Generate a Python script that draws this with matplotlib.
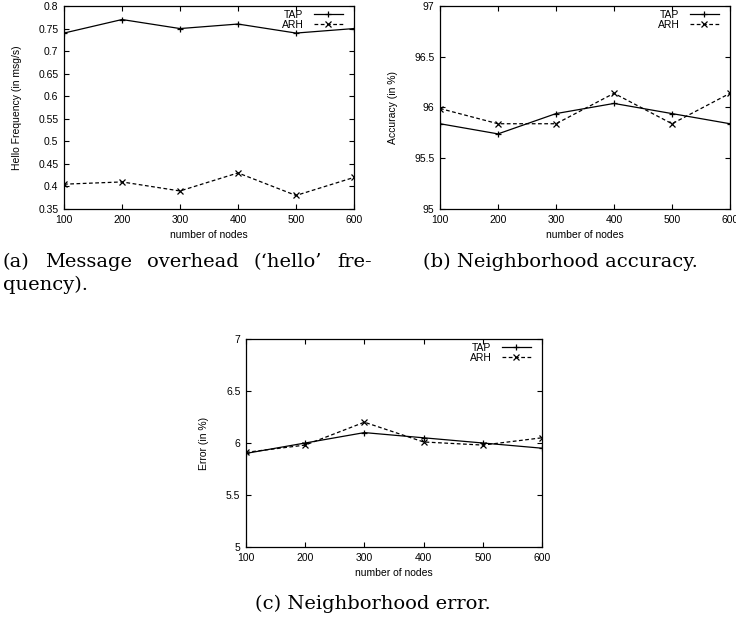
import matplotlib
matplotlib.use('Agg')
import matplotlib.pyplot as plt
from matplotlib.ticker import FuncFormatter, MultipleLocator

# ---------------- data ----------------
nodes = [100, 200, 300, 400, 500, 600]
hello_tap = [0.74, 0.77, 0.75, 0.76, 0.74, 0.75]
hello_arh = [0.405, 0.41, 0.39, 0.43, 0.38, 0.42]
acc_tap = [95.84, 95.74, 95.94, 96.04, 95.94, 95.84]
acc_arh = [95.99, 95.84, 95.84, 96.14, 95.84, 96.14]
err_tap = [5.90, 6.00, 6.10, 6.05, 6.00, 5.95]
err_arh = [5.91, 5.98, 6.20, 6.01, 5.98, 6.05]
series_labels = ['TAP', 'ARH']
x_label = 'number of nodes'
y_labels = ['Hello Frequency (in msg/s)', 'Accuracy (in %)', 'Error (in %)']
caption_a1 = ['(a)', 'Message', 'overhead', '(\u2018hello\u2019', 'fre-']
caption_a2 = 'quency).'
caption_b = '(b) Neighborhood accuracy.'
caption_c = '(c) Neighborhood error.'

# ---------------- figure ----------------
W, H = 736, 629
fig = plt.figure(figsize=(W / 100, H / 100), dpi=100)
fig.patch.set_facecolor('white')

SANS = 'Liberation Sans'
SERIF = 'DejaVu Serif'


def px_rect(left, right, top, bottom):
    return [left / W, 1 - bottom / H, (right - left) / W, (bottom - top) / H]


def make_panel(left, right, top, bottom, tap, arh, ylab, ylim, ystep):
    ax = fig.add_axes(px_rect(left, right, top, bottom))
    ax.plot(nodes, tap, color='black', lw=0.9, marker='+', ms=5, mew=0.9,
            label=series_labels[0])
    ax.plot(nodes, arh, color='black', lw=0.9, ls=(0, (3, 2)), marker='x',
            ms=4, mew=0.9, label=series_labels[1])
    ax.set_xlim(100, 600)
    ax.set_ylim(*ylim)
    ax.xaxis.set_major_locator(MultipleLocator(100))
    ax.yaxis.set_major_locator(MultipleLocator(ystep))
    ax.yaxis.set_major_formatter(FuncFormatter(lambda v, p: '%g' % round(v, 6)))
    ax.tick_params(direction='in', top=True, right=True, length=3.5,
                   width=0.8, labelsize=7.5, pad=4)
    for lab in ax.get_xticklabels() + ax.get_yticklabels():
        lab.set_fontfamily(SANS)
    for s in ax.spines.values():
        s.set_linewidth(0.9)
    ax.set_xlabel(x_label, fontsize=7.5, fontfamily=SANS, labelpad=4)
    ax.set_ylabel(ylab, fontsize=7.5, fontfamily=SANS, labelpad=12)
    wpx = right - left
    hpx = bottom - top
    ax.legend(loc='upper right', frameon=False, markerfirst=False,
              handlelength=2.8, handletextpad=1.0,
              borderaxespad=0.0, borderpad=0.0, labelspacing=0.0,
              numpoints=1,
              bbox_to_anchor=(1 - 11 / wpx, 1 - 4 / hpx),
              prop={'family': SANS, 'size': 7.5})
    return ax


make_panel(64, 354, 6, 209, hello_tap, hello_arh, y_labels[0],
           (0.35, 0.8), 0.05)
make_panel(440, 730, 6, 209, acc_tap, acc_arh, y_labels[1],
           (95, 97), 0.5)
make_panel(246, 542, 339, 547, err_tap, err_arh, y_labels[2],
           (5, 7), 0.5)

# ---------------- captions ----------------
renderer = fig.canvas.get_renderer()


def text_px(x, y, s, size, ha='left'):
    return fig.text(x / W, 1 - y / H, s, fontsize=size, fontfamily=SERIF,
                    ha=ha, va='center')


# fit font size so caption (b) spans its width in the reference
probe = text_px(0, 0, caption_b, 12)
wb = probe.get_window_extent(renderer).width
probe.remove()
cap_size = 12 * 274 / wb

text_px(423, 262, caption_b, cap_size)
text_px(255, 604, caption_c, cap_size)

# justified first line of caption (a)
words = [text_px(0, 262, w, cap_size) for w in caption_a1]
widths = [t.get_window_extent(renderer).width for t in words]
x0, x1 = 3, 372
gap = (x1 - x0 - sum(widths)) / (len(words) - 1)
x = x0
for t, w in zip(words, widths):
    t.set_x(x / W)
    x += w + gap
text_px(3, 285, caption_a2, cap_size)

fig.savefig('out.png', dpi=100, facecolor='white')
